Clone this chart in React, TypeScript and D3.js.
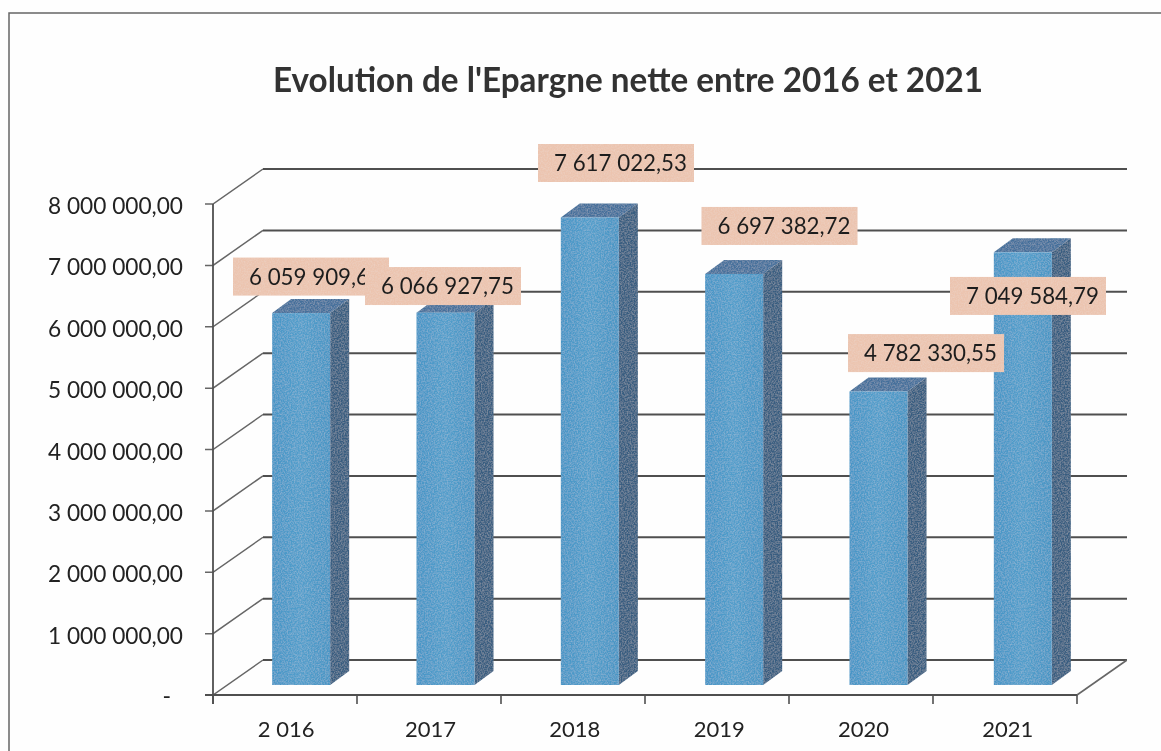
import React from "react";
import * as d3 from "d3";

const categories = ["2 016", "2017", "2018", "2019", "2020", "2021"];
const epargne = [6059909.65, 6066927.75, 7617022.53, 6697382.72, 4782330.55, 7049584.79];
const yTicks = [0, 1000000, 2000000, 3000000, 4000000, 5000000, 6000000, 7000000, 8000000];
const title = "Evolution de l'Epargne nette entre 2016 et 2021";

// data labels were dragged by hand in the original, offset from the bar top
const labelDx = [26, 14, 43, 62.5, 65, 23];
const labelDy = [-46.5, -36.6, -64.5, -58, -48.4, 33.6];

const fr = d3.formatLocale({ decimal: ",", thousands: "\u00a0", grouping: [3], currency: ["", ""] });
const fmt = fr.format(",.2f");

const W = 1161;
const H = 751;
const FONT = "Lato, 'Open Sans', sans-serif";

// floor depth of the fake 3d box, and the bars inside it
const depthX = 50;
const depthY = 35;
const barDepthX = 19;
const barDepthY = 14;
const barFrontX = 15;
const barFrontY = 10;
const barW = 58;

const x = d3.scaleBand<string>().domain(categories).range([213, 1077]);
// the scan is a little skewed, bars and their names drift right of the ticks
const xBars = d3.scaleBand<string>().domain(categories).range([214, 1080]);
const y = d3.scaleLinear().domain([0, 8000000]).range([695, 204]);

const lineColor = "#505050";

export default function App() {
  const x0 = x.range()[0];
  const x1 = x.range()[1];
  const boundaries = [...categories.map((c) => x(c) as number), x1];

  return (
    <svg
      width={W}
      height={H}
      viewBox={`0 0 ${W} ${H}`}
      style={{ position: "absolute", left: 0, top: 0, background: "#fefefe" }}
    >
      <defs>
        <filter id="scan" x="0" y="0" width="100%" height="100%">
          <feTurbulence type="fractalNoise" baseFrequency="0.9" numOctaves={2} seed={4} result="n" />
          <feDisplacementMap in="SourceGraphic" in2="n" scale={1.2} result="d" />
          <feGaussianBlur in="d" stdDeviation={0.4} />
        </filter>
        <filter id="grain" x="0" y="0" width="100%" height="100%">
          <feTurbulence type="fractalNoise" baseFrequency="0.7" numOctaves={2} seed={9} result="n" />
          <feColorMatrix
            in="n"
            type="matrix"
            values="0 0 0 0 0.85  0 0 0 0 0.85  0 0 0 0 0.85  0.45 0 0 0 -0.16"
            result="speck"
          />
          <feComposite in="speck" in2="SourceAlpha" operator="in" result="s" />
          <feMerge>
            <feMergeNode in="SourceGraphic" />
            <feMergeNode in="s" />
          </feMerge>
        </filter>
        <linearGradient id="front" x1="0" x2="1" y1="0" y2="0">
          <stop offset="0" stopColor="#4795c6" />
          <stop offset="0.5" stopColor="#529ecb" />
          <stop offset="1" stopColor="#4995c4" />
        </linearGradient>
      </defs>

      {/* scanned page border */}
      <path d={`M9,${H}V13H${W}`} fill="none" stroke="#666" strokeWidth={1.5} />

      <g filter="url(#scan)">
        <text
          x={628}
          y={92}
          textAnchor="middle"
          textLength={710}
          lengthAdjust="spacingAndGlyphs"
          fontFamily={FONT}
          fontSize={34}
          fontWeight={700}
          fill="#333"
        >
          {title}
        </text>

        {/* left wall slants, then back wall lines */}
        {yTicks.map((t) => (
          <path
            key={t}
            d={`M${x0 - 8},${y(t)}H${x0}L${x0 + depthX},${y(t) - depthY}`}
            fill="none"
            stroke="#666"
            strokeWidth={1.5}
          />
        ))}
        {yTicks.map((t) => (
          <line
            key={t}
            x1={x0 + depthX}
            x2={x1 + depthX}
            y1={y(t) - depthY}
            y2={y(t) - depthY}
            stroke={lineColor}
            strokeWidth={2}
          />
        ))}
        <path d={`M${x1 + depthX},${y(0) - depthY}L${x1},${y(0)}`} fill="none" stroke="#666" strokeWidth={1.6} />
        <line x1={x0} x2={x0} y1={y(8000000)} y2={y(0) + 9} stroke={lineColor} strokeWidth={1.8} />
        <line x1={x0 - 8} x2={x1} y1={y(0)} y2={y(0)} stroke={lineColor} strokeWidth={2} />
        {boundaries.map((b) => (
          <line key={b} x1={b} x2={b} y1={y(0)} y2={y(0) + 9} stroke={lineColor} strokeWidth={1.6} />
        ))}

        {yTicks.map((t) =>
          t === 0 ? (
            <text key={t} x={171} y={y(t) + 9} textAnchor="end" fontFamily={FONT} fontSize={23} fill="#222">
              -
            </text>
          ) : (
            <text
              key={t}
              x={183}
              y={y(t) + 10}
              textAnchor="end"
              textLength={135}
              lengthAdjust="spacingAndGlyphs"
              fontFamily={FONT}
              fontSize={23}
              fill="#222"
            >
              {fmt(t)}
            </text>
          )
        )}

        {categories.map((c) => (
          <text
            key={c}
            x={(xBars(c) as number) + xBars.bandwidth() / 2}
            y={737}
            textAnchor="middle"
            fontFamily={FONT}
            fontSize={22}
            fill="#222"
          >
            {c}
          </text>
        ))}

        <g filter="url(#grain)">
          {categories.map((c, i) => {
            const left = (xBars(c) as number) + xBars.bandwidth() / 2 + barFrontX - barW / 2;
            const right = left + barW;
            const top = y(epargne[i]) - barFrontY;
            const bottom = y(0) - barFrontY;
            return (
              <g key={c}>
                <path
                  d={`M${left},${top}L${left + barDepthX},${top - barDepthY}H${right + barDepthX}L${right},${top}Z`}
                  fill="#44709b"
                />
                <path
                  d={`M${right},${top}L${right + barDepthX},${top - barDepthY}V${bottom - barDepthY}L${right},${bottom}Z`}
                  fill="#385d80"
                />
                <rect x={left} y={top} width={barW} height={bottom - top} fill="url(#front)" />
              </g>
            );
          })}
        </g>

        {categories.map((c, i) => {
          const cx = (x(c) as number) + x.bandwidth() / 2 + labelDx[i];
          const cy = y(epargne[i]) + labelDy[i];
          return (
            <g key={c}>
              <rect x={cx - 78} y={cy - 19} width={156} height={38} fill="#ecc4af" filter="url(#grain)" />
              <text
                x={cx + 4.5}
                y={cy + 8}
                textAnchor="middle"
                textLength={133}
                lengthAdjust="spacingAndGlyphs"
                fontFamily={FONT}
                fontSize={23}
                fill="#1f1f1f"
              >
                {fmt(epargne[i])}
              </text>
            </g>
          );
        })}
      </g>
    </svg>
  );
}
